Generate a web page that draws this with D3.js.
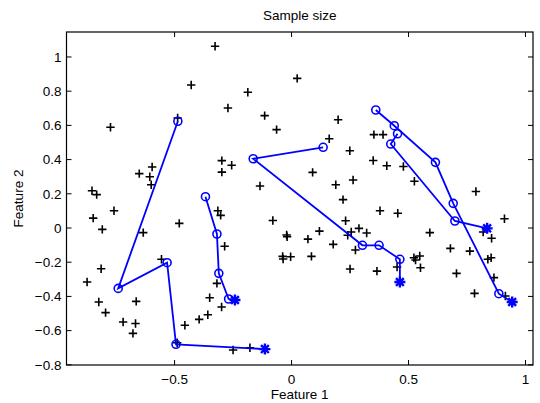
<!DOCTYPE html>
<html>
<head>
<meta charset="utf-8">
<script src="https://cdn.jsdelivr.net/npm/d3@7"></script>
<style>
  html, body { margin: 0; padding: 0; background: #fff; }
  svg { display: block; }
  text { font-family: "Liberation Sans", Arial, Helvetica, sans-serif; fill: #000; }
</style>
</head>
<body>
<svg id="chart" width="540" height="403"></svg>
<script>
// Sample points (Feature 1, Feature 2)
const sampleX = [
  -0.327, -0.429, -0.272, -0.487, -0.774, -0.298, -0.298, -0.256, -0.596, -0.651,
  -0.606, -0.600, -0.853, -0.833, 0.024, -0.187, -0.115, -0.064, 0.199, 0.161,
  0.249, 0.349, 0.352, 0.391, 0.090, -0.135, 0.189, 0.263, 0.220, 0.407,
  0.478, 0.525, 0.788, -0.759, -0.848, -0.809, -0.634, -0.480, -0.315, -0.303,
  -0.286, -0.319, -0.814, -0.874, -0.556, -0.824, -0.795, -0.664, -0.720, -0.667,
  -0.678, -0.456, -0.395, -0.358, -0.350, -0.299, -0.489, -0.250, -0.178, -0.080,
  -0.021, -0.019, -0.038, -0.004, -0.036, 0.070, 0.119, 0.085, 0.178, 0.231,
  0.240, 0.255, 0.288, 0.321, 0.273, 0.250, 0.365, 0.378, 0.454, 0.451,
  0.523, 0.548, 0.530, 0.551, 0.910, 0.591, 0.819, 0.855, 0.679, 0.762,
  0.839, 0.853, 0.865, 0.705, 0.782, 0.914
];
const sampleY = [
  1.063, 0.836, 0.702, 0.643, 0.589, 0.394, 0.327, 0.367, 0.357, 0.318,
  0.300, 0.253, 0.218, 0.195, 0.875, 0.794, 0.657, 0.575, 0.633, 0.522,
  0.452, 0.395, 0.546, 0.546, 0.325, 0.246, 0.253, 0.281, 0.166, 0.364,
  0.360, 0.273, 0.213, 0.101, 0.058, -0.008, -0.027, 0.027, 0.101, 0.074,
  -0.107, -0.324, -0.238, -0.316, -0.183, -0.433, -0.495, -0.429, -0.550, -0.558,
  -0.616, -0.569, -0.534, -0.507, -0.408, -0.462, -0.671, -0.713, -0.700, 0.044,
  -0.041, -0.051, -0.166, -0.168, -0.181, -0.065, -0.018, -0.166, -0.096, 0.042,
  -0.042, -0.023, -0.002, -0.029, -0.129, -0.240, -0.252, 0.101, 0.086, -0.228,
  -0.174, -0.164, -0.187, -0.232, 0.054, -0.027, -0.023, -0.060, -0.119, -0.135,
  -0.183, -0.174, -0.290, -0.265, -0.382, -0.398
];

// Centroid paths: intermediate positions (circles) ending at a final position (asterisk)
const pathAX = [-0.486, -0.741, -0.532, -0.494, -0.114];
const pathAY = [0.624, -0.353, -0.203, -0.680, -0.708];
const pathBX = [-0.368, -0.319, -0.311, -0.269, -0.242];
const pathBY = [0.183, -0.035, -0.265, -0.415, -0.421];
const pathCX = [0.135, -0.164, 0.303, 0.374, 0.463, 0.463];
const pathCY = [0.472, 0.405, -0.101, -0.101, -0.183, -0.316];
const pathDX = [0.360, 0.439, 0.615, 0.691, 0.886, 0.943];
const pathDY = [0.690, 0.598, 0.384, 0.144, -0.384, -0.433];
const pathEX = [0.453, 0.424, 0.698, 0.836];
const pathEY = [0.551, 0.491, 0.041, -0.002];

const xTicks = [-0.5, 0, 0.5, 1];
const yTicks = [-0.8, -0.6, -0.4, -0.2, 0, 0.2, 0.4, 0.6, 0.8, 1];

const titleText = "Sample size";
const xLabel = "Feature 1";
const yLabel = "Feature 2";

const paths = [
  [pathAX, pathAY], [pathBX, pathBY], [pathCX, pathCY], [pathDX, pathDY], [pathEX, pathEY]
].map(([xs, ys]) => xs.map((v, i) => ({ x: v, y: ys[i] })));
const samples = sampleX.map((v, i) => ({ x: v, y: sampleY[i] }));

const svg = d3.select("#chart");
const plotLeft = 66.5, plotRight = 533, plotTop = 32, plotBottom = 365;

const x = d3.scaleLinear().domain([-0.962, 1.032]).range([plotLeft, plotRight]);
const y = d3.scaleLinear().domain([-0.801, 1.146]).range([plotBottom, plotTop]);

const fmt = v => {
  const s = d3.format("~g")(Math.round(v * 100) / 100);
  return s.replace("-", "\u2212");
};

const blue = "#0000ff";
const tickLen = 5;

// Sample crosses
const plus = 4.2;
svg.append("g")
  .selectAll("path")
  .data(samples)
  .join("path")
  .attr("d", d => {
    const cx = x(d.x), cy = y(d.y);
    return `M${cx - plus},${cy}H${cx + plus}M${cx},${cy - plus}V${cy + plus}`;
  })
  .attr("stroke", "#000")
  .attr("stroke-width", 1.6)
  .attr("fill", "none");

// Centroid paths
const line = d3.line().x(d => x(d.x)).y(d => y(d.y));
const gPaths = svg.append("g");
paths.forEach(p => {
  gPaths.append("path")
    .attr("d", line(p))
    .attr("fill", "none")
    .attr("stroke", blue)
    .attr("stroke-width", 1.8);
  gPaths.selectAll(null)
    .data(p.slice(0, -1))
    .enter().append("circle")
    .attr("cx", d => x(d.x))
    .attr("cy", d => y(d.y))
    .attr("r", 4)
    .attr("fill", "none")
    .attr("stroke", blue)
    .attr("stroke-width", 1.6);
  const end = p[p.length - 1];
  const r = 5.5, cx = x(end.x), cy = y(end.y);
  let d = "";
  for (let k = 0; k < 4; k++) {
    const a = k * Math.PI / 4;
    const dx = r * Math.cos(a), dy = r * Math.sin(a);
    d += `M${cx - dx},${cy - dy}L${cx + dx},${cy + dy}`;
  }
  gPaths.append("path")
    .attr("d", d)
    .attr("stroke", blue)
    .attr("stroke-width", 2.4)
    .attr("fill", "none");
  gPaths.append("circle")
    .attr("cx", cx).attr("cy", cy).attr("r", 2.6)
    .attr("fill", blue);
});

// Axes frame with inward ticks on all sides
const frame = svg.append("g");
frame.append("rect")
  .attr("x", plotLeft).attr("y", plotTop)
  .attr("width", plotRight - plotLeft).attr("height", plotBottom - plotTop)
  .attr("fill", "none").attr("stroke", "#000").attr("stroke-width", 1.2);

xTicks.forEach(t => {
  const px = x(t);
  frame.append("line").attr("x1", px).attr("x2", px).attr("y1", plotBottom).attr("y2", plotBottom - tickLen)
    .attr("stroke", "#000").attr("stroke-width", 1);
  frame.append("line").attr("x1", px).attr("x2", px).attr("y1", plotTop).attr("y2", plotTop + tickLen)
    .attr("stroke", "#000").attr("stroke-width", 1);
});
yTicks.forEach(t => {
  const py = y(t);
  frame.append("line").attr("x1", plotLeft).attr("x2", plotLeft + tickLen).attr("y1", py).attr("y2", py)
    .attr("stroke", "#000").attr("stroke-width", 1);
  frame.append("line").attr("x1", plotRight).attr("x2", plotRight - tickLen).attr("y1", py).attr("y2", py)
    .attr("stroke", "#000").attr("stroke-width", 1);
});

// Tick labels
svg.append("g").selectAll("text")
  .data(xTicks).join("text")
  .attr("x", d => x(d)).attr("y", plotBottom + 19)
  .attr("text-anchor", "middle")
  .attr("font-size", 13.5)
  .text(fmt);

svg.append("g").selectAll("text")
  .data(yTicks).join("text")
  .attr("x", plotLeft - 5).attr("y", d => y(d))
  .attr("dy", "0.35em")
  .attr("text-anchor", "end")
  .attr("font-size", 13.5)
  .text(fmt);

// Title and axis labels
svg.append("text")
  .attr("x", (plotLeft + plotRight) / 2).attr("y", 20)
  .attr("text-anchor", "middle")
  .attr("font-size", 13.5)
  .text(titleText);

svg.append("text")
  .attr("x", (plotLeft + plotRight) / 2).attr("y", 399)
  .attr("text-anchor", "middle")
  .attr("font-size", 13.5)
  .text(xLabel);

svg.append("text")
  .attr("transform", `translate(23,${(plotTop + plotBottom) / 2}) rotate(-90)`)
  .attr("text-anchor", "middle")
  .attr("font-size", 13.5)
  .text(yLabel);
</script>
</body>
</html>
